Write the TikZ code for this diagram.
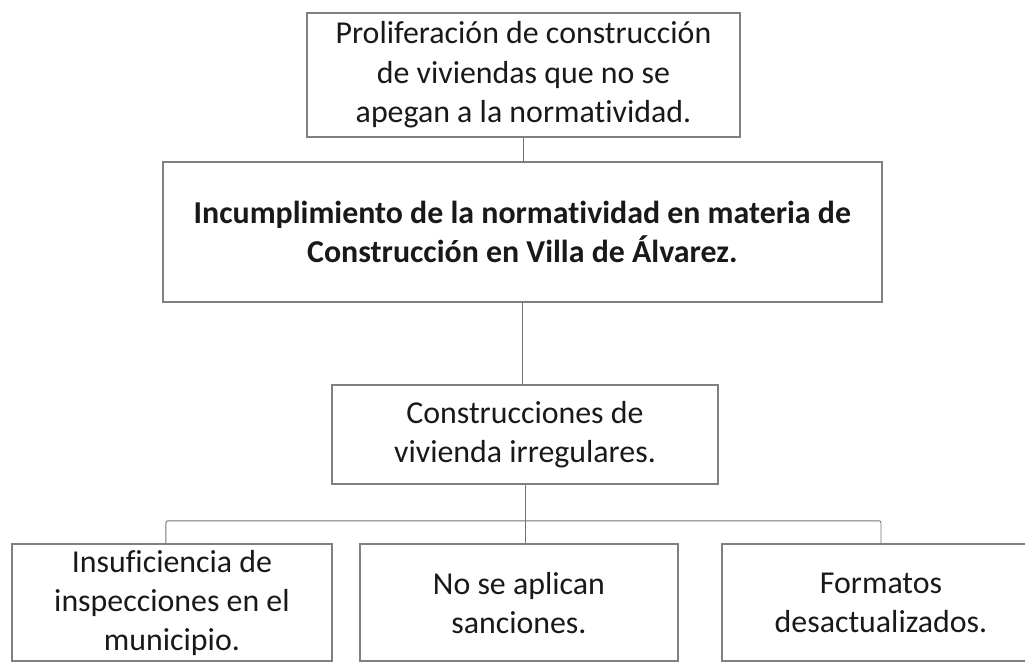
\documentclass[tikz,border=0pt]{standalone}
\usepackage{fontspec}
\setmainfont{Carlito}[Ligatures=NoCommon]

\begin{document}
\begin{tikzpicture}[
  box/.style={draw=black!50, line width=1.4pt, align=center, inner sep=0pt,
    text=black!90, font=\fontsize{24}{29.5}\selectfont},
  line/.style={draw=black!55, line width=0.7pt, rounded corners=1.5pt}
]
\useasboundingbox (0,0) rectangle (271.2mm,-175.7mm);

\node[box, minimum width=114.6mm, minimum height=32.8mm] (efecto) at (138.5mm,-19.8mm)
  {Proliferación de construcción\\de viviendas que no se\\apegan a la normatividad.};
\node[box, font=\fontsize{24}{29.5}\selectfont\bfseries, minimum width=190.2mm, minimum height=37mm] (problema) at (138.2mm,-61.4mm)
  {Incumplimiento de la normatividad en materia de\\Construcción en Villa de Álvarez.};
\node[box, minimum width=102.1mm, minimum height=26.2mm] (causa) at (138.9mm,-115mm)
  {Construcciones de\\vivienda irregulares.};

\node[box, minimum width=84.7mm, minimum height=31mm] (c1) at (45.5mm,-159.5mm)
  {Insuficiencia de\\inspecciones en el\\municipio.};
\node[box, minimum width=84.1mm, minimum height=31mm] (c2) at (137.3mm,-159.5mm)
  {No se aplican\\sanciones.};
\node[box, minimum width=84.1mm, minimum height=31mm] (c3) at (233.1mm,-159.5mm)
  {Formatos\\desactualizados.};

% bus to the three causes
\coordinate (busL) at (43.9mm,-137.8mm);
\coordinate (busR) at (233.1mm,-137.8mm);

\draw[line] (efecto.south) -- (efecto.south |- problema.north);
\draw[line] (problema.south) -- (problema.south |- causa.north);
\draw[line] (causa.south) -- (causa.south |- c2.north);
\draw[line] (c1.north -| busL) -- (busL) -- (busR) -- (c3.north -| busR);
\end{tikzpicture}
\end{document}
